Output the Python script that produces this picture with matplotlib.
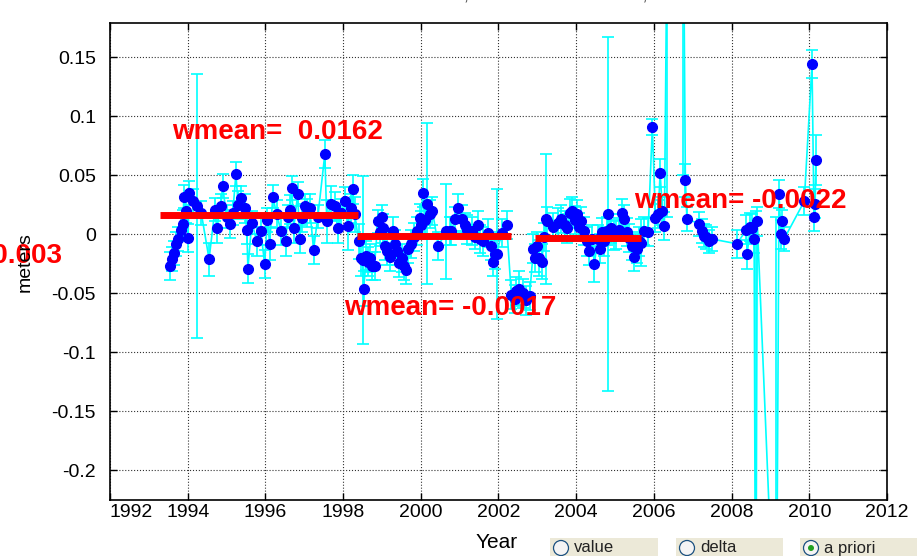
import matplotlib
matplotlib.use('Agg')
import matplotlib.pyplot as plt
from matplotlib.patches import Rectangle, Ellipse

plt.rcParams['font.family'] = ['Liberation Sans', 'DejaVu Sans']

# station time series (decimal year, meters, 1-sigma)
yr = [1993.54, 1993.59, 1993.65, 1993.70, 1993.75, 1993.83, 1993.88, 1993.90, 1993.96, 1994.01,
      1994.03, 1994.13, 1994.24, 1994.35, 1994.55, 1994.70, 1994.75, 1994.85, 1994.90, 1995.00,
      1995.08, 1995.16, 1995.24, 1995.30, 1995.37, 1995.47, 1995.52, 1995.55, 1995.65, 1995.78,
      1995.88, 1995.98, 1996.05, 1996.11, 1996.19, 1996.29, 1996.40, 1996.52, 1996.58, 1996.63,
      1996.68, 1996.73, 1996.83, 1996.88, 1996.94, 1997.01, 1997.08, 1997.14, 1997.24, 1997.35,
      1997.53, 1997.58, 1997.68, 1997.78, 1997.86, 1997.95, 1998.04, 1998.12, 1998.20, 1998.25,
      1998.30,
      1998.40, 1998.45, 1998.50, 1998.53, 1998.60, 1998.63, 1998.70, 1998.74, 1998.81, 1998.89,
      1998.95, 1998.99, 1999.02, 1999.08, 1999.12, 1999.20, 1999.28, 1999.33, 1999.38, 1999.45,
      1999.51, 1999.58, 1999.62, 1999.66, 1999.76, 1999.82, 1999.89, 1999.97, 2000.00, 2000.05,
      2000.10, 2000.15, 2000.23, 2000.30, 2000.45, 2000.65, 2000.74, 2000.79, 2000.88, 2000.95,
      2001.07, 2001.15, 2001.20, 2001.33, 2001.40, 2001.46, 2001.52, 2001.59, 2001.72, 2001.80,
      2001.85, 2001.90, 2001.95, 2002.08, 2002.21,
      2002.33, 2002.42, 2002.46, 2002.54, 2002.62, 2002.72, 2002.80,
      2002.90, 2002.95, 2002.98, 2003.05, 2003.11, 2003.18, 2003.22, 2003.26, 2003.40, 2003.52,
      2003.62, 2003.70, 2003.77, 2003.85, 2003.90, 2003.98, 2004.03, 2004.08, 2004.13, 2004.21,
      2004.28, 2004.34, 2004.40, 2004.47, 2004.55, 2004.60, 2004.66, 2004.72, 2004.78, 2004.83,
      2004.90, 2004.98, 2005.03, 2005.10, 2005.18, 2005.24, 2005.30, 2005.37, 2005.44, 2005.50,
      2005.57, 2005.62, 2005.68, 2005.75, 2005.85,
      2005.96, 2006.04, 2006.11, 2006.16, 2006.22, 2006.27, 2006.35, 2006.75, 2006.81, 2006.85,
      2007.17, 2007.24, 2007.30, 2007.35, 2007.42, 2007.50, 2008.14, 2008.38, 2008.40, 2008.48,
      2008.53, 2008.58, 2008.62, 2008.66, 2009.15, 2009.22, 2009.27, 2009.30, 2009.35, 2009.87,
      2010.07, 2010.12, 2010.15, 2010.17]
val = [-0.027, -0.021, -0.016, -0.008, -0.004, 0.004, 0.009, 0.032, 0.020, -0.003,
       0.035, 0.028, 0.024, 0.018, -0.021, 0.021, 0.005, 0.024, 0.041, 0.015,
       0.009, 0.018, 0.051, 0.025, 0.031, 0.022, 0.004, -0.029, 0.010, -0.006,
       0.003, -0.025, 0.012, -0.008, 0.032, 0.017, 0.003, -0.006, 0.015, 0.021,
       0.039, 0.005, 0.034, -0.004, 0.014, 0.024, 0.018, 0.022, -0.013, 0.015,
       0.068, 0.011, 0.026, 0.024, 0.005, 0.018, 0.028, 0.007, 0.022, 0.038,
       0.017,
       -0.006, -0.020, -0.022, -0.046, -0.018, -0.023, -0.020, -0.027, -0.027, 0.011,
       0.002, 0.015, 0.005, -0.010, -0.014, -0.019, 0.003, -0.008, -0.014, -0.024,
       -0.020, -0.027, -0.030, -0.012, -0.008, -0.002, 0.003, 0.014, 0.008, 0.035,
       0.012, 0.026, 0.017, 0.020, -0.010, 0.0025, 0.003, 0.003, 0.013, 0.022,
       0.013, 0.008, 0.004, 0.003, -0.002, 0.008, -0.004, -0.006, 0.001, -0.010,
       -0.023, -0.017, -0.017, 0.001, 0.008,
       -0.051, -0.055, -0.048, -0.046, -0.050, -0.056, -0.052,
       -0.012, -0.020, -0.010, -0.020, -0.023, -0.002, 0.013, 0.011, 0.006, 0.010,
       0.013, 0.008, 0.005, 0.018, 0.020, 0.012, 0.017, 0.006, 0.011, 0.003,
       -0.006, -0.014, -0.004, -0.025, -0.004, -0.012, 0.002, -0.006, 0.003, 0.017,
       0.005, -0.001, 0.000, 0.004, 0.018, 0.013, 0.002, -0.003, -0.010, -0.019,
       -0.012, -0.006, -0.007, 0.003, 0.002,
       0.091, 0.014, 0.017, 0.052, 0.020, 0.007, 0.300, 0.320, 0.046, 0.013,
       0.009, 0.003, -0.001, -0.002, -0.006, -0.004, -0.008, 0.004, -0.017, 0.006,
       0.005, -0.004, -0.400, 0.011, -0.380, 0.034, 0.000, 0.011, -0.004, 0.028,
       0.144, 0.015, 0.026, 0.063]
err = [0.012, 0.010, 0.010, 0.010, 0.010, 0.010, 0.012, 0.010, 0.010, 0.012,
       0.010, 0.010, 0.112, 0.010, 0.014, 0.010, 0.012, 0.010, 0.010, 0.010,
       0.012, 0.010, 0.010, 0.012, 0.010, 0.012, 0.012, 0.012, 0.010, 0.012,
       0.012, 0.012, 0.010, 0.014, 0.010, 0.012, 0.012, 0.012, 0.010, 0.012,
       0.010, 0.012, 0.010, 0.012, 0.012, 0.010, 0.012, 0.012, 0.012, 0.010,
       0.012, 0.018, 0.015, 0.012, 0.012, 0.012, 0.012, 0.020, 0.012, 0.012,
       0.015,
       0.015, 0.015, 0.071, 0.015, 0.012, 0.012, 0.012, 0.012, 0.012, 0.010,
       0.012, 0.010, 0.012, 0.012, 0.012, 0.012, 0.012, 0.012, 0.012, 0.012,
       0.012, 0.012, 0.012, 0.012, 0.012, 0.012, 0.012, 0.012, 0.012, 0.012,
       0.012, 0.068, 0.012, 0.012, 0.012, 0.040, 0.012, 0.012, 0.010, 0.012,
       0.012, 0.010, 0.012, 0.012, 0.010, 0.012, 0.012, 0.012, 0.012, 0.012,
       0.012, 0.012, 0.055, 0.012, 0.012,
       0.012, 0.012, 0.012, 0.015, 0.012, 0.012, 0.012,
       0.012, 0.012, 0.012, 0.015, 0.015, 0.012, 0.055, 0.012, 0.012, 0.012,
       0.012, 0.012, 0.012, 0.012, 0.012, 0.012, 0.012, 0.012, 0.012, 0.012,
       0.012, 0.012, 0.012, 0.015, 0.012, 0.012, 0.012, 0.012, 0.012, 0.150,
       0.012, 0.012, 0.012, 0.010, 0.012, 0.012, 0.012, 0.012, 0.012, 0.012,
       0.012, 0.012, 0.020, 0.012, 0.012,
       0.007, 0.012, 0.012, 0.012, 0.012, 0.012, 0.285, 0.270, 0.014, 0.010,
       0.010, 0.010, 0.010, 0.010, 0.010, 0.010, 0.012, 0.012, 0.012, 0.012,
       0.012, 0.012, 0.420, 0.012, 0.395, 0.012, 0.012, 0.010, 0.010, 0.012,
       0.012, 0.012, 0.012, 0.021]

# weighted means per segment
seg_start = [1993.29, 1998.35, 2002.93]
seg_end = [1998.38, 2002.33, 2005.68]
seg_mean = [0.0162, -0.0017, -0.0030]

lbl_text = ['wmean=  0.0162', 'wmean= -0.0017', 'wmean= -0.0022']
lbl_x = [1993.59, 1998.02, 2005.50]
lbl_y = [0.0864, -0.062, 0.028]

fig = plt.figure(figsize=(9.17, 5.56), dpi=100)
ax = fig.add_axes([110 / 917, 56 / 556, 777 / 917, 477 / 556])

ax.errorbar(yr, val, yerr=err, color='#00ffff', ecolor='#00ffff', lw=1.2, elinewidth=1.2,
            capsize=4.3, capthick=1.2, zorder=2)
ax.plot(yr, val, 'o', color='#0000ff', ms=7, zorder=3)

for s, e, m in zip(seg_start, seg_end, seg_mean):
    ax.plot([s, e], [m, m], color='#ff0000', lw=5, solid_capstyle='butt', zorder=4)

for t, x, y in zip(lbl_text, lbl_x, lbl_y):
    ax.text(x, y, t, color='#ff0000', fontsize=20, fontweight='bold', ha='left', va='center', zorder=5)

# label of the third segment sits off to the left of the axes
ax.text(1990.77, -0.0186, 'wmean= -0.003', color='#ff0000', fontsize=20, fontweight='bold',
        ha='right', va='center', clip_on=False)

ax.set_xlim(1992, 2012)
ax.set_ylim(-0.225, 0.179)
ax.set_xticks(range(1992, 2013, 2))
ax.set_xticklabels([str(y) for y in range(1992, 2013, 2)])
ax.set_yticks([-0.2, -0.15, -0.1, -0.05, 0, 0.05, 0.1, 0.15])
ax.set_yticklabels(['-0.2', '-0.15', '-0.1', '-0.05', '0', '0.05', '0.1', '0.15'])
ax.get_xticklabels()[0].set_horizontalalignment('left')
ax.tick_params(direction='in', top=True, right=True, length=5, width=1, labelsize=14)
ax.tick_params(axis='y', pad=10)
ax.tick_params(axis='x', pad=3)
ax.grid(True, linestyle=':', color='#333333', linewidth=0.8)
for sp in ax.spines.values():
    sp.set_linewidth(1.2)

fig.text(25 / 917, 1 - 262 / 556, 'meters', rotation=90, ha='center', va='center', fontsize=14)
fig.text(497 / 917, 1 - 543 / 556, 'Year', ha='center', va='center', fontsize=15)
fig.text(497 / 917, 1 + 1 / 556, 'Station FORT, Station WETTZELL,', ha='center', va='baseline',
         fontsize=14, color='#555555')

# radio buttons at the bottom
ov = fig.add_axes([0, 0, 1, 1], zorder=10)
ov.set_xlim(0, 917)
ov.set_ylim(556, 0)
ov.axis('off')
ov.patch.set_alpha(0)
btn_labels = ['value', 'delta', 'a priori']
btn_x0 = [550, 676, 800]
btn_x1 = [658, 783, 917]
for lab, x0, x1 in zip(btn_labels, btn_x0, btn_x1):
    ov.add_patch(Rectangle((x0, 538), x1 - x0, 18, facecolor='#ece9d8', edgecolor='none'))
    ov.add_patch(Ellipse((x0 + 11, 548), 15, 15, facecolor='#f4f4f4', edgecolor='#1c5180', lw=0.9))
    ov.text(x0 + 24, 548, lab, fontsize=12, color='#222222', ha='left', va='center')
ov.add_patch(Ellipse((800 + 11, 548), 6, 6, facecolor='#21a121', edgecolor='none'))

fig.savefig('out.png', dpi=100)
